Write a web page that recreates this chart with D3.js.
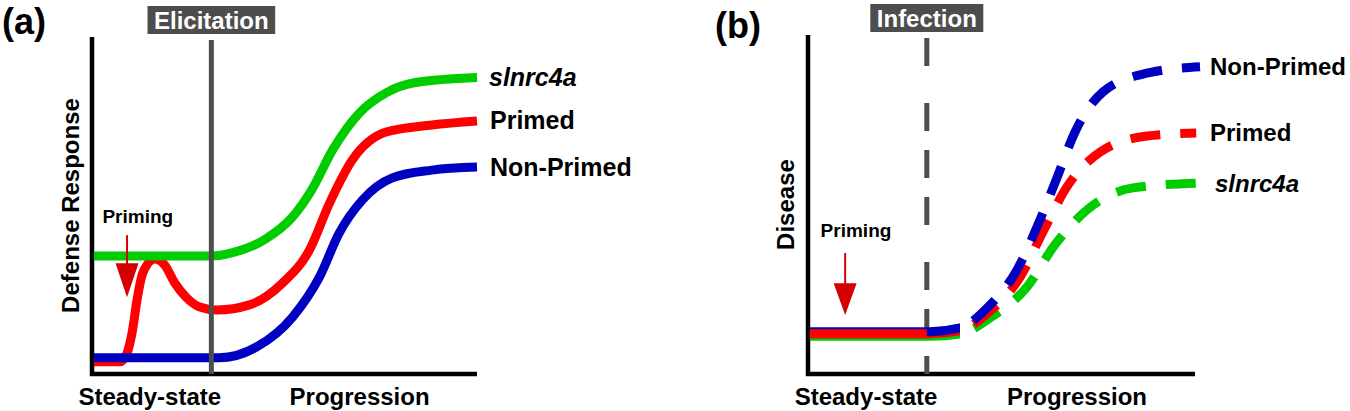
<!DOCTYPE html>
<html>
<head>
<meta charset="UTF-8">
<title>Defense response and disease, primed vs non-primed</title>
<script src="https://cdnjs.cloudflare.com/ajax/libs/d3/7.8.5/d3.min.js"></script>
<style>
body
{
margin:0;
background:#fff;
}
text
{
font-family:"Liberation Sans", Arial, sans-serif;
font-weight:bold;
}
</style>
</head>
<body>
<div id="chart"></div>

<script type="text/javascript">
// all curves live in a 0-100 time (x) by 0-100 level (y) frame
var seriesNames=["slnrc4a","Primed","Non-Primed"];
var seriesColors=["#00cc00","#ff0000","#0000c0"];

// panel (a): defense response
var defenseGreen=[[0.5,35],[31,35],[36.5,36],[45,40],[52,46.5],[57,54.5],[62.5,66.5],[69.5,77.5],[76.5,83.5],[84,86.5],[100,88]];
var defenseRed=[[0.5,3.6],[7.3,3.6],[9.1,6.2],[10.4,12.2],[11.7,22],[13.2,30],[16.3,34.1],[18.9,32.3],[21.5,27],[24.6,22.6],[28,19.9],[32.4,19],[40.9,20.5],[49.5,27],[56.5,36.8],[61.7,50.7],[67.6,63.5],[76.4,71.8],[88.3,73.9],[100,75.1]];
var defenseBlue=[[0.5,4.8],[33,4.8],[42.7,8],[52.1,16.9],[59.1,28.8],[64.2,41.8],[70.2,51.6],[78,58.2],[88.3,60.5],[100,61.4]];

// panel (b): disease
var diseaseBlue=[[0.5,12.5],[31.5,12.5],[39.3,13.6],[46.3,19.5],[54,30.7],[59.4,44],[64.3,57.8],[69,71.4],[76.2,83.2],[87.9,88.8],[101.3,90.6]];
var diseaseRed=[[0.5,11.9],[31.5,11.9],[39.3,12.8],[46.5,18],[54.8,28.6],[60.7,41.9],[66.9,55.2],[75.5,65.5],[87.6,70.2],[100.3,71.1]];
var diseaseGreen=[[0.5,11.1],[31.5,11.1],[39.3,11.8],[47,16.5],[56.6,25.7],[63.8,38.1],[72.1,48.4],[84,54.9],[100.5,56.3]];

var elicitationAt=31, infectionAt=30.7, solidUntil=39.3;
var xLabels=["Steady-state","Progression"], xLabelAt=[15,69.5];

var width=1350, height=411;
var svg=d3.select("#chart").append("svg").attr("width",width).attr("height",height);

var xA=d3.scaleLinear().domain([0,100]).range([92,477]);
var yA=d3.scaleLinear().domain([0,100]).range([374,37]);
var xB=d3.scaleLinear().domain([0,100]).range([808,1195]);
var yB=d3.scaleLinear().domain([0,100]).range([374,35]);

function lineFor(x,y){return d3.line().x(function(d){return x(d[0]);}).y(function(d){return y(d[1]);}).curve(d3.curveMonotoneX);}
var lineA=lineFor(xA,yA), lineB=lineFor(xB,yB);

var defs=svg.append("defs");
function clipRect(id,x0,x1){defs.append("clipPath").attr("id",id).append("rect").attr("x",x0).attr("y",0).attr("width",x1-x0).attr("height",height);}
clipRect("solidB",0,xB(solidUntil));
clipRect("dashB",xB(solidUntil),width);
clipRect("primB",0,xB(infectionAt));

function axes(x,y)
{
svg.append("path")
  .attr("d","M"+x(0)+","+y(100)+"V"+y(0)+"H"+x(100))
  .attr("fill","none").attr("stroke","#000").attr("stroke-width",4.5);
}

function marker(x,y,at,name,dashed,boxTop)
{
var g=svg.append("g");
var t=g.append("text").attr("x",x(at)).attr("y",boxTop+22.5).attr("text-anchor","middle")
  .attr("fill","#fff").style("font-size","24px").text(name);
var w=t.node().getComputedTextLength()+13;
g.insert("rect","text").attr("x",x(at)-w/2).attr("y",boxTop).attr("width",w).attr("height",28).attr("fill","#4d4d4d");
var l=svg.append("line").attr("x1",x(at)).attr("x2",x(at)).attr("y1",dashed?38:40).attr("y2",y(0))
  .attr("stroke","#4d4d4d").attr("stroke-width",5);
if(dashed) l.attr("stroke-dasharray","28,37,28,19,28,19");
return l;
}

function priming(x,y,at,top,base,tip,textV)
{
svg.append("line").attr("x1",x(at)).attr("x2",x(at)).attr("y1",y(top)).attr("y2",y(base)+1)
  .attr("stroke","#d40000").attr("stroke-width",2);
svg.append("path")
  .attr("d","M"+(x(at)-11.5)+","+y(base)+"L"+(x(at)+11.5)+","+y(base)+"L"+x(at)+","+y(tip)+"Z")
  .attr("fill","#d40000");
svg.append("text").attr("x",x(at+2.8)).attr("y",y(textV)).attr("text-anchor","middle")
  .style("font-size","19px").text("Priming");
}

function labels(x,y,title,yTitle,titleX,titleY,yTitleX)
{
svg.append("text").attr("x",titleX).attr("y",titleY).style("font-size","36px").text(title);
svg.append("text").attr("transform","translate("+yTitleX+","+(y(0)+y(100))/2+") rotate(-90)")
  .attr("text-anchor","middle").style("font-size","24px").text(yTitle);
svg.selectAll(null).data(xLabels).enter().append("text")
  .attr("x",function(d,i){return x(xLabelAt[i]);}).attr("y",405)
  .attr("text-anchor","middle").style("font-size","24px").text(function(d){return d;});
}

function endLabel(x,y,series,name,dx)
{
var last=series[series.length-1];
svg.append("text").attr("x",x(100)+dx).attr("y",y(last[1])+8.5)
  .style("font-size","25px").style("font-style",name=="slnrc4a"?"italic":"normal").text(name);
}

// ---- panel (a)
axes(xA,yA);
labels(xA,yA,"(a)","Defense Response",2,34,79);
var curvesA=[defenseRed,defenseBlue,defenseGreen], colA=[seriesColors[1],seriesColors[2],seriesColors[0]];
svg.selectAll(".curveA").data(curvesA).enter().append("path")
  .attr("class","curveA").attr("d",lineA).attr("fill","none")
  .attr("stroke",function(d,i){return colA[i];}).attr("stroke-width",9);
marker(xA,yA,elicitationAt,"Elicitation",false,6);
priming(xA,yA,9.1,41.2,32.9,22.8,44.8);
endLabel(xA,yA,defenseGreen,seriesNames[0],12);
endLabel(xA,yA,defenseRed,seriesNames[1],13);
endLabel(xA,yA,defenseBlue,seriesNames[2],13);

// ---- panel (b)
axes(xB,yB);
labels(xB,yB,"(b)","Disease",715,38,794);
marker(xB,yB,infectionAt,"Infection",true,4);
var curvesB=[diseaseGreen,diseaseRed,diseaseBlue], colB=[seriesColors[0],seriesColors[1],seriesColors[2]];
curvesB.forEach(function(c,i)
{
svg.append("path").attr("d",lineB(c)).attr("fill","none").attr("stroke",colB[i])
  .attr("stroke-width",9).attr("clip-path","url(#solidB)");
var p=svg.append("path").attr("d",lineB(c)).attr("fill","none").attr("stroke",colB[i])
  .attr("stroke-width",9).attr("clip-path","url(#dashB)");
// find arc length where the solid part stops, start dashes after a short gap
var node=p.node(), L=node.getTotalLength(), s=0;
while(s<L && node.getPointAtLength(s).x<xB(solidUntil)) s+=0.5;
var off=((-(s+15))%50+50)%50;
p.attr("stroke-dasharray","30,20").attr("stroke-dashoffset",off);
});
svg.append("path").attr("d",lineB(diseaseRed)).attr("fill","none").attr("stroke",seriesColors[1])
  .attr("stroke-width",9).attr("clip-path","url(#primB)");
priming(xB,yB,9.6,35.7,26.8,17.4,40.4);
svg.append("text").attr("x",1210).attr("y",yB(diseaseBlue[diseaseBlue.length-1][1])+8.5).style("font-size","24px").text(seriesNames[2]);
svg.append("text").attr("x",1210).attr("y",yB(diseaseRed[diseaseRed.length-1][1])+8.5).style("font-size","24px").text(seriesNames[1]);
svg.append("text").attr("x",1215).attr("y",yB(diseaseGreen[diseaseGreen.length-1][1])+8.5).style("font-size","24px").style("font-style","italic").text(seriesNames[0]);
</script>
</body>
</html>
